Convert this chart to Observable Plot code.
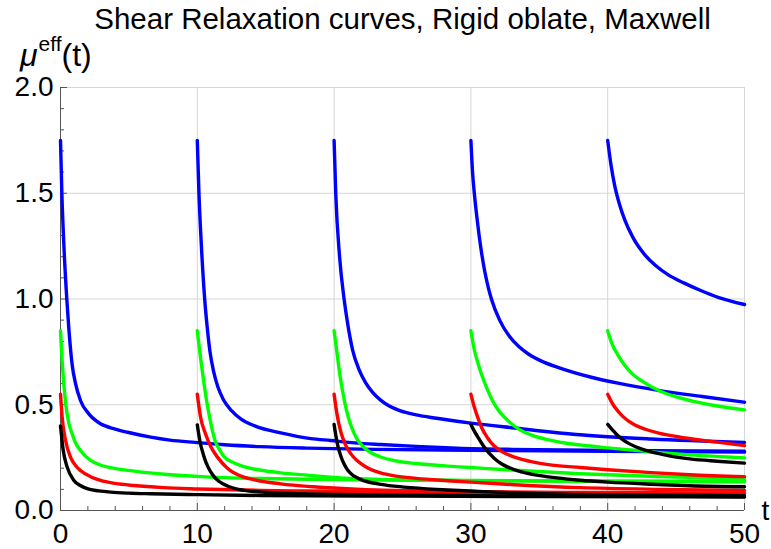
<!DOCTYPE html>
<html><head><meta charset="utf-8">
<script src="https://cdn.jsdelivr.net/npm/d3@7"></script>
<script src="https://cdn.jsdelivr.net/npm/@observablehq/plot@0.6"></script>
<style>body{margin:0;background:#fff;font-family:"Liberation Sans",Arial,sans-serif}</style>
</head><body><div id="chart"></div><script>
// ---- data (t, mu_eff) ----
const startTimes = [0, 10, 20, 30, 40];
const colorNames = ["blue", "green", "red", "black"];
const colorValues = ["#0000ff", "#00ff00", "#ff0000", "#000000"];
const xMajor = [0, 10, 20, 30, 40, 50];
const xMinor = [2, 4, 6, 8, 12, 14, 16, 18, 22, 24, 26, 28, 32, 34, 36, 38, 42, 44, 46, 48];
const yMajor = [0, 0.5, 1.0, 1.5, 2.0];
const yMinor = [0.1, 0.2, 0.3, 0.4, 0.6, 0.7, 0.8, 0.9, 1.1, 1.2, 1.3, 1.4, 1.6, 1.7, 1.8, 1.9];
const xGrid = [10, 20, 30, 40, 50];
const yGrid = [0.5, 1.0, 1.5, 2.0];

const blue_t0 = [[0,1.75],[0.1,1.5],[0.25,1.25],[0.46,1.0],[0.61,0.86],[0.85,0.69],[1.1,0.6],[1.46,0.52],[2.07,0.457],[2.93,0.41],[4.0,0.385],[4.9,0.37],[6.6,0.347],[8,0.333],[9.8,0.322],[12,0.311],[14.6,0.302],[18,0.295],[23,0.289],[30,0.285],[40,0.28],[50,0.276]];
const blue_t10 = [[10,1.75],[10.12,1.5],[10.3,1.25],[10.54,1.0],[10.75,0.85],[10.93,0.75],[11.2,0.655],[11.5,0.585],[11.9,0.525],[12.5,0.472],[13.2,0.432],[14.2,0.4],[16.1,0.367],[18.3,0.34],[19.75,0.331],[21.5,0.32],[23.4,0.312],[26,0.303],[29,0.295],[33,0.289],[40,0.284],[50,0.28]];
const blue_t20 = [[20,1.75],[20.12,1.5],[20.4,1.2],[20.73,1.0],[21.0,0.88],[21.35,0.76],[21.8,0.67],[22.3,0.605],[22.8,0.56],[23.4,0.522],[24.0,0.495],[24.8,0.472],[26,0.452],[27.5,0.436],[30,0.413],[33.2,0.39],[38,0.358],[43.2,0.338],[50,0.322]];
const blue_t30 = [[30,1.75],[30.12,1.6],[30.25,1.5],[30.45,1.38],[30.73,1.24],[31.0,1.135],[31.25,1.06],[31.5,1.0],[32.1,0.9],[32.8,0.825],[33.5,0.775],[34.2,0.74],[35.2,0.705],[36.3,0.678],[38.8,0.63],[40.75,0.602],[43.7,0.568],[46.9,0.539],[50,0.512]];
const blue_t40 = [[40,1.75],[40.25,1.63],[40.5,1.54],[40.85,1.45],[41.24,1.375],[41.85,1.29],[42.7,1.21],[43.5,1.158],[44.4,1.115],[45.6,1.075],[46.8,1.04],[48.07,1.008],[50,0.974]];

const green_t0 = [[0,0.85],[0.08,0.75],[0.17,0.66],[0.39,0.5],[0.6,0.415],[0.85,0.363],[1.1,0.32],[1.46,0.284],[2.2,0.237],[2.9,0.215],[3.66,0.203],[5.4,0.186],[7.8,0.17],[10.25,0.16],[14.6,0.151],[18,0.148],[23.4,0.144],[30,0.141],[40,0.138],[50,0.136]];
const green_t10 = [[10,0.85],[10.24,0.72],[10.49,0.6],[10.73,0.5],[10.9,0.44],[11.1,0.38],[11.3,0.33],[11.6,0.29],[11.95,0.255],[12.7,0.225],[13.67,0.203],[15,0.187],[16.1,0.178],[18,0.167],[19.75,0.158],[21.5,0.151],[23.4,0.147],[30,0.142],[40,0.139],[50,0.137]];
const green_t20 = [[20,0.85],[20.2,0.75],[20.45,0.63],[20.75,0.52],[21.0,0.45],[21.3,0.39],[21.7,0.335],[22.2,0.297],[22.7,0.273],[23.4,0.253],[24.4,0.236],[26,0.222],[28.3,0.21],[30,0.203],[33.2,0.19],[38,0.174],[44,0.16],[50,0.149]];
const green_t30 = [[30,0.85],[30.25,0.76],[30.5,0.7],[30.97,0.61],[31.5,0.53],[31.95,0.48],[32.7,0.425],[33.5,0.385],[34.5,0.355],[35.6,0.335],[37,0.318],[38.5,0.306],[40,0.296],[43.2,0.277],[46,0.263],[50,0.249]];
const green_t40 = [[40,0.85],[40.3,0.79],[40.75,0.735],[41.2,0.69],[41.7,0.652],[42.6,0.608],[43.8,0.565],[45.0,0.537],[46.2,0.517],[48,0.494],[50,0.476]];

const red_t0 = [[0,0.55],[0.12,0.441],[0.37,0.331],[0.73,0.252],[1.1,0.213],[1.46,0.189],[2.2,0.16],[2.93,0.142],[4,0.128],[5.36,0.118],[7.5,0.108],[10,0.102],[14.6,0.095],[18,0.092],[23.4,0.088],[30,0.085],[40,0.082],[50,0.08]];
const red_t10 = [[10,0.55],[10.24,0.441],[10.6,0.363],[11.0,0.3],[11.5,0.25],[12.2,0.2],[13,0.168],[14.2,0.145],[16.1,0.126],[18.5,0.112],[22,0.1],[26,0.093],[30,0.089],[40,0.085],[50,0.082]];
const red_t20 = [[20,0.55],[20.24,0.445],[20.5,0.37],[20.8,0.315],[21.2,0.27],[21.7,0.235],[22.3,0.207],[23.4,0.178],[24.4,0.164],[26,0.152],[28.3,0.141],[30,0.134],[33.2,0.122],[38,0.108],[44,0.1],[50,0.095]];
const red_t30 = [[30,0.55],[30.2,0.5],[30.5,0.44],[30.8,0.39],[31.2,0.345],[31.7,0.305],[32.3,0.277],[33.3,0.25],[34.5,0.23],[35.8,0.216],[38,0.203],[40,0.193],[43.2,0.179],[46,0.169],[50,0.16]];
const red_t40 = [[40,0.55],[40.4,0.5],[40.75,0.47],[41.1,0.445],[41.95,0.405],[42.8,0.383],[43.8,0.365],[45,0.35],[46.2,0.338],[48,0.323],[50,0.307]];

const black_t0 = [[0,0.4],[0.2,0.284],[0.49,0.205],[0.98,0.142],[1.45,0.118],[1.95,0.103],[2.8,0.093],[3.66,0.087],[5,0.082],[6.6,0.079],[10,0.075],[14.6,0.071],[25,0.068],[35,0.066],[50,0.064]];
const black_t10 = [[10,0.405],[10.2,0.325],[10.44,0.265],[10.65,0.225],[10.86,0.196],[11.22,0.16],[11.6,0.137],[12.2,0.116],[13,0.1],[13.67,0.093],[14.9,0.086],[16.1,0.082],[20,0.076],[30,0.07],[40,0.068],[50,0.066]];
const black_t20 = [[20,0.407],[20.24,0.315],[20.5,0.255],[20.75,0.217],[21.0,0.19],[21.47,0.162],[21.96,0.146],[23.2,0.126],[24.4,0.115],[25.6,0.108],[28.3,0.097],[30,0.092],[33.2,0.083],[38,0.076],[44,0.072],[50,0.07]];
const black_t30 = [[30,0.407],[30.25,0.375],[30.5,0.348],[30.97,0.3],[31.7,0.247],[32.2,0.222],[32.7,0.205],[33.5,0.186],[34.5,0.171],[36.3,0.154],[38,0.143],[40,0.134],[43.2,0.124],[46,0.117],[50,0.112]];
const black_t40 = [[40,0.407],[40.3,0.385],[40.6,0.363],[41.0,0.34],[41.6,0.315],[42.5,0.29],[43.5,0.272],[44.5,0.258],[46,0.244],[48,0.233],[50,0.224]];

const titleText = "Shear Relaxation curves, Rigid oblate, Maxwell";

// ---- build table ----
const curveSets = [
  [blue_t0, blue_t10, blue_t20, blue_t30, blue_t40],
  [green_t0, green_t10, green_t20, green_t30, green_t40],
  [red_t0, red_t10, red_t20, red_t30, red_t40],
  [black_t0, black_t10, black_t20, black_t30, black_t40]
];
const rows = [];
startTimes.forEach((s, i) => {
  colorNames.forEach((c, j) => {
    curveSets[j][i].forEach(([t, v]) => rows.push({id: c + s, color: colorValues[j], t, v}));
  });
});

const axisColor = "#555555";
const gridColor = "#d6d6d6";
const font = "'Liberation Sans', Arial, sans-serif";

const chart = Plot.plot({
  width: 771, height: 549,
  marginLeft: 60, marginRight: 27, marginTop: 87, marginBottom: 39,
  style: {fontFamily: font, fontSize: "28px", color: "black", background: "white", overflow: "visible"},
  x: {domain: [0, 50]},
  y: {domain: [0, 2]},
  marks: [
    Plot.ruleX(xGrid, {y1: 0, y2: 2, stroke: gridColor, strokeWidth: 1}),
    Plot.ruleY(yGrid, {x1: 0, x2: 50, stroke: gridColor, strokeWidth: 1}),
    Plot.ruleX([0], {y1: 0, y2: 2, stroke: axisColor, strokeWidth: 1}),
    Plot.ruleY([0], {x1: 0, x2: 50, stroke: axisColor, strokeWidth: 1}),
    Plot.axisX({ticks: xMajor, tickSize: -7, tickPadding: 20, stroke: axisColor, fill: "black", tickFormat: d => String(d), label: null, fontSize: 28}),
    Plot.axisX({ticks: xMinor, tickSize: -4, stroke: axisColor, tickFormat: () => "", label: null}),
    Plot.axisY({ticks: yMajor, tickSize: -7, tickPadding: 14, stroke: axisColor, fill: "black", tickFormat: d3.format(".1f"), label: null, fontSize: 28}),
    Plot.axisY({ticks: yMinor, tickSize: -4, stroke: axisColor, tickFormat: () => "", label: null}),
    Plot.line(rows, {x: "t", y: "v", z: "id", stroke: "color", strokeWidth: 3.4, curve: "monotone-x"}),
    Plot.text([titleText], {frameAnchor: "top", dy: -68, fontSize: 29.5, fill: "black", lineAnchor: "middle"}),
    Plot.text(["t"], {frameAnchor: "bottom-right", dx: 17, dy: 1, fontSize: 28, fill: "black", textAnchor: "start", lineAnchor: "middle"})
  ]
});
document.getElementById("chart").appendChild(chart);

// y-axis label with italic mu and superscript
const svg = d3.select(chart);
const lab = svg.append("text").attr("x", 20).attr("y", 66)
  .attr("text-anchor", "start")
  .attr("font-family", font).attr("font-size", 32).attr("fill", "black");
lab.append("tspan").attr("font-style", "italic").text("μ");
lab.append("tspan").attr("font-size", 21).attr("dy", -15).attr("dx", 1).text("eff");
lab.append("tspan").attr("dy", 15).text("(t)");
</script></body></html>
